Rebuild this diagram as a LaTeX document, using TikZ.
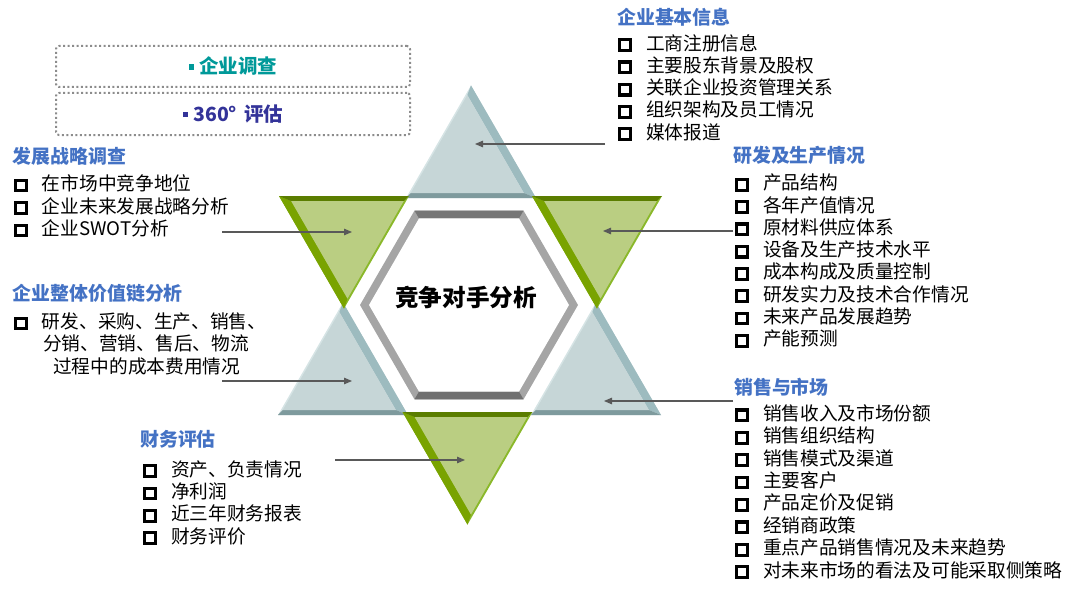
\documentclass[tikz,border=0pt]{standalone}
\usepackage{fontspec}
\setmainfont{Noto Sans CJK SC}
\usetikzlibrary{arrows.meta}
\definecolor{headblue}{RGB}{68,114,196}
\definecolor{teal1}{RGB}{0,153,153}
\definecolor{navy1}{RGB}{51,51,153}
\definecolor{arrowgray}{RGB}{89,89,89}
\definecolor{dotgray}{RGB}{140,140,140}
\definecolor{blueF}{RGB}{198,214,215}
\definecolor{blueR}{RGB}{157,187,191}
\definecolor{blueB}{RGB}{126,154,157}
\definecolor{blueL}{RGB}{214,228,229}
\definecolor{greenF}{RGB}{186,206,130}
\definecolor{greenL}{RGB}{121,163,0}
\definecolor{greenT}{RGB}{91,125,0}
\definecolor{greenR}{RGB}{138,184,42}
\definecolor{hexlight}{RGB}{165,165,165}
\definecolor{hexdark}{RGB}{118,118,118}
\definecolor{hexdarker}{RGB}{112,112,112}
\newcommand\bx{\raisebox{1.2pt}{\setlength\fboxrule{3.1pt}\setlength\fboxsep{0pt}\fbox{\rule{0pt}{7.6pt}\rule{7.6pt}{0pt}}}}
\newcommand\smallsq{\raisebox{4pt}{\rule{5.5pt}{5.5pt}}}
% blue upward point: #1 cx, #2 base y, #3 side
\newcommand\bluetri[3]{%
  \pgfmathsetmacro\Lx{#1-#3/2}\pgfmathsetmacro\Rx{#1+#3/2}\pgfmathsetmacro\Py{#2-#3*0.866}%
  \pgfmathsetmacro\Lix{#1-#3/2+(5+2*1.6)/1.732}\pgfmathsetmacro\Rix{#1+#3/2-(5+2*8)/1.732}%
  \pgfmathsetmacro\Biy{#2-5}\pgfmathsetmacro\Pix{(\Lix+\Rix)/2}\pgfmathsetmacro\Piy{\Biy-(\Rix-\Lix)*0.866}%
  \fill[blueL] (\Lx,#2) -- (#1,\Py) -- (\Rx,#2) -- cycle;
  \fill[blueR] (#1,\Py) -- (\Rx,#2) -- (\Rix,\Biy) -- (\Pix,\Piy) -- cycle;
  \fill[blueB] (\Lx,#2) -- (\Rx,#2) -- (\Rix,\Biy) -- (\Lix,\Biy) -- cycle;
  \fill[blueF] (\Lix,\Biy) -- (\Pix,\Piy) -- (\Rix,\Biy) -- cycle;
}
% green downward point: #1 cx, #2 top y, #3 side
\newcommand\greentri[3]{%
  \pgfmathsetmacro\Lx{#1-#3/2}\pgfmathsetmacro\Rx{#1+#3/2}\pgfmathsetmacro\By{#2+#3*0.866}%
  \pgfmathsetmacro\Lix{#1-#3/2+(5+2*8)/1.732}\pgfmathsetmacro\Rix{#1+#3/2-(5+2*2)/1.732}%
  \pgfmathsetmacro\Tiy{#2+5}\pgfmathsetmacro\Bix{(\Lix+\Rix)/2}\pgfmathsetmacro\Biy{\Tiy+(\Rix-\Lix)*0.866}%
  \fill[greenR] (\Lx,#2) -- (#1,\By) -- (\Rx,#2) -- cycle;
  \fill[greenL] (\Lx,#2) -- (#1,\By) -- (\Bix,\Biy) -- (\Lix,\Tiy) -- cycle;
  \fill[greenT] (\Lx,#2) -- (\Rx,#2) -- (\Rix,\Tiy) -- (\Lix,\Tiy) -- cycle;
  \fill[greenF] (\Lix,\Tiy) -- (\Bix,\Biy) -- (\Rix,\Tiy) -- cycle;
}
\tikzset{
  lst/.style={anchor=west, inner sep=0pt, font=\fontsize{18.7}{22}\selectfont, text height=16.4pt, text depth=2.3pt},
  hd/.style={lst, font=\fontsize{18.9}{22}\selectfont\bfseries, text=headblue},
  conn/.style={draw=arrowgray, line width=1.1pt, -{Triangle[length=8pt,width=6.5pt]}},
  dotbox/.style={draw=dotgray, line width=2pt, dash pattern=on 2pt off 2.5pt, rounded corners=3pt,
    minimum width=354pt, inner sep=0pt, font=\fontsize{19.5}{22}\selectfont\bfseries, text height=17.1pt, text depth=2.4pt},
}
\begin{document}
\begin{tikzpicture}[x=1pt,y=-1pt]
\useasboundingbox (0,0) rectangle (1077,594);
% top-left boxes
\node[dotbox, minimum height=41pt, text=teal1] (b1) at (233,66.5) {\smallsq\hspace{5pt}企业调查};
\node[dotbox, minimum height=42pt, text=navy1] (b2) at (233,114) {\smallsq\hspace{5pt}360°\hspace{7pt}评估};
% star points
\bluetri{471}{198}{130}
\bluetri{343}{415}{130}
\bluetri{596}{415}{130}
\greentri{344}{196}{130}
\greentri{597}{196}{130}
\greentri{467.5}{412}{130}
% hexagon
\fill[hexlight] (578,305) -- (523.5,210.6) -- (414.5,210.6) -- (360,305) -- (414.5,399.4) -- (523.5,399.4) -- cycle;
\fill[hexdark] (414.5,210.6) -- (523.5,210.6) -- (519,218.4) -- (419,218.4) -- cycle;
\fill[hexdarker] (414.5,399.4) -- (523.5,399.4) -- (519,391.6) -- (419,391.6) -- cycle;
\fill[white] (569,305) -- (519,218.4) -- (419,218.4) -- (369,305) -- (419,391.6) -- (519,391.6) -- cycle;
\node[inner sep=0pt, font=\fontsize{23.6}{26}\selectfont\bfseries, text height=20.8pt, text depth=2.8pt] (ctr) at (466,297) {竞争对手分析};
% lists
\node[hd] (hA) at (617,17) {企业基本信息};
\foreach \t [count=\i] in {工商注册信息,主要股东背景及股权,关联企业投资管理关系,组织架构及员工情况,媒体报道}
  \node[lst] (A\i) at (618,{43+(\i-1)*22.3}) {\bx\hspace{14pt}\t};
\node[hd] (hB) at (733,155) {研发及生产情况};
\foreach \t [count=\i] in {产品结构,各年产值情况,原材料供应体系,设备及生产技术水平,成本构成及质量控制,研发实力及技术合作情况,未来产品发展趋势,产能预测}
  \node[lst] (B\i) at (735,{182.7+(\i-1)*22.3}) {\bx\hspace{14pt}\t};
\node[hd] (hC) at (734,387) {销售与市场};
\foreach \t [count=\i] in {销售收入及市场份额,销售组织结构,销售模式及渠道,主要客户,产品定价及促销,经销商政策,重点产品销售情况及未来趋势,对未来市场的看法及可能采取侧策略}
  \node[lst] (C\i) at (735,{413.3+(\i-1)*22.4}) {\bx\hspace{14pt}\t};
\node[hd] (hD) at (12.5,156) {发展战略调查};
\foreach \t [count=\i] in {在市场中竞争地位,企业未来发展战略分析,企业SWOT分析}
  \node[lst] (D\i) at (14,{183.5+(\i-1)*22.5}) {\bx\hspace{14pt}\t};
\node[hd] (hE) at (12.5,293) {企业整体价值链分析};
\node[lst] (E1) at (14,321.5) {\bx\hspace{14pt}研发、采购、生产、销售、};
\node[lst] (E2) at (43,343.5) {分销、营销、售后、物流};
\node[lst] (E3) at (53,366) {过程中的成本费用情况};
\node[hd] (hF) at (140,439) {财务评估};
\foreach \t [count=\i] in {资产、负责情况,净利润,近三年财务报表,财务评价}
  \node[lst] (F\i) at (143,{469+(\i-1)*22.4}) {\bx\hspace{14pt}\t};
% connectors
\coordinate (s1) at (605,144); \coordinate (e1) at (475,144);
\coordinate (s2) at (222,232); \coordinate (e2) at (352,232);
\coordinate (s3) at (733,231); \coordinate (e3) at (603,231);
\coordinate (s4) at (222,381); \coordinate (e4) at (352,381);
\coordinate (s5) at (733,401); \coordinate (e5) at (604,401);
\coordinate (s6) at (335,460); \coordinate (e6) at (465,460);
\foreach \k in {1,...,6} \draw[conn] (s\k) -- (e\k);
\end{tikzpicture}
\end{document}
